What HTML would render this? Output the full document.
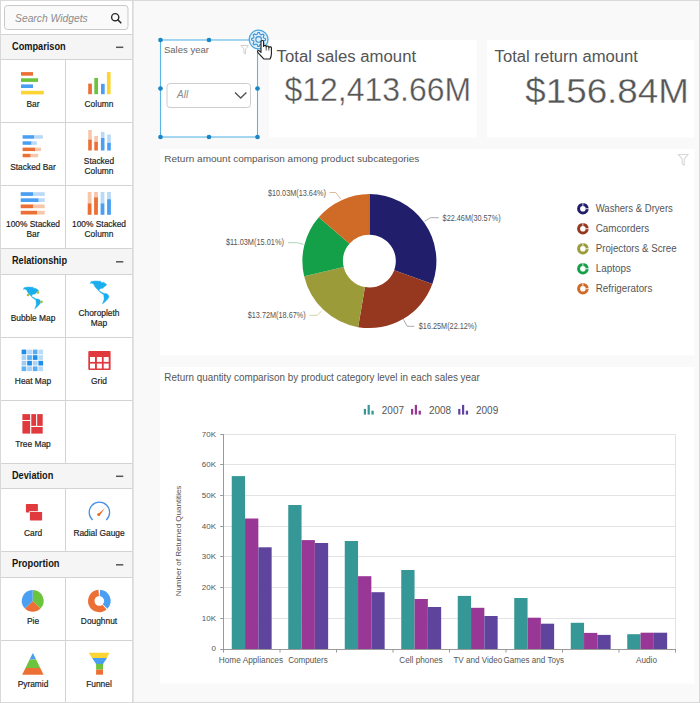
<!DOCTYPE html>
<html><head><meta charset="utf-8"><title>Dashboard Designer</title>
<style>html,body{margin:0;padding:0;background:#f7f7f7;width:700px;height:703px;overflow:hidden;font-family:"Liberation Sans",sans-serif}</style>
</head><body>
<svg width="700" height="703" viewBox="0 0 700 703" style="display:block;font-family:'Liberation Sans',sans-serif"><rect x="0.00" y="0.00" width="700.00" height="703.00" fill="#f9f9f9"/>
<rect x="0.00" y="0.00" width="132.50" height="703.00" fill="#ffffff"/>
<rect x="4.50" y="5.50" width="123.50" height="24.00" fill="#fafafa" rx="3" stroke="#c9c9c9" stroke-width="1"/>
<text x="15.00" y="22.20" fill="#8c8c8c" text-anchor="start" style="font-size:10.7px;font-weight:400;font-style:italic" textLength="72.8" lengthAdjust="spacingAndGlyphs">Search Widgets</text>
<circle cx="115.20" cy="17.20" r="3.60" fill="none" stroke="#2a2a2a" stroke-width="1.4"/>
<line x1="117.80" y1="19.80" x2="120.80" y2="22.80" stroke="#2a2a2a" stroke-width="1.6" stroke-linecap="round"/>
<rect x="0.00" y="34.50" width="132.50" height="25.00" fill="#f5f5f5"/>
<text x="12.00" y="49.60" fill="#151515" text-anchor="start" style="font-size:10.4px;font-weight:700" textLength="53.7" lengthAdjust="spacingAndGlyphs">Comparison</text>
<line x1="116.00" y1="47.30" x2="123.30" y2="47.30" stroke="#555" stroke-width="1.5"/>
<rect x="0.00" y="248.50" width="132.50" height="26.00" fill="#f5f5f5"/>
<text x="12.00" y="264.10" fill="#151515" text-anchor="start" style="font-size:10.4px;font-weight:700" textLength="55" lengthAdjust="spacingAndGlyphs">Relationship</text>
<line x1="116.00" y1="261.80" x2="123.30" y2="261.80" stroke="#555" stroke-width="1.5"/>
<rect x="0.00" y="463.50" width="132.50" height="25.00" fill="#f5f5f5"/>
<text x="12.00" y="478.60" fill="#151515" text-anchor="start" style="font-size:10.4px;font-weight:700" textLength="41.3" lengthAdjust="spacingAndGlyphs">Deviation</text>
<line x1="116.00" y1="476.30" x2="123.30" y2="476.30" stroke="#555" stroke-width="1.5"/>
<rect x="0.00" y="551.50" width="132.50" height="26.00" fill="#f5f5f5"/>
<text x="12.00" y="567.10" fill="#151515" text-anchor="start" style="font-size:10.4px;font-weight:700" textLength="47.5" lengthAdjust="spacingAndGlyphs">Proportion</text>
<line x1="116.00" y1="564.80" x2="123.30" y2="564.80" stroke="#555" stroke-width="1.5"/>
<line x1="0.00" y1="34.50" x2="132.50" y2="34.50" stroke="#d3d3d3" stroke-width="1"/>
<line x1="0.00" y1="59.50" x2="132.50" y2="59.50" stroke="#d3d3d3" stroke-width="1"/>
<line x1="0.00" y1="122.50" x2="132.50" y2="122.50" stroke="#d3d3d3" stroke-width="1"/>
<line x1="0.00" y1="185.50" x2="132.50" y2="185.50" stroke="#d3d3d3" stroke-width="1"/>
<line x1="0.00" y1="248.50" x2="132.50" y2="248.50" stroke="#d3d3d3" stroke-width="1"/>
<line x1="0.00" y1="274.50" x2="132.50" y2="274.50" stroke="#d3d3d3" stroke-width="1"/>
<line x1="0.00" y1="337.50" x2="132.50" y2="337.50" stroke="#d3d3d3" stroke-width="1"/>
<line x1="0.00" y1="400.50" x2="132.50" y2="400.50" stroke="#d3d3d3" stroke-width="1"/>
<line x1="0.00" y1="463.50" x2="132.50" y2="463.50" stroke="#d3d3d3" stroke-width="1"/>
<line x1="0.00" y1="488.50" x2="132.50" y2="488.50" stroke="#d3d3d3" stroke-width="1"/>
<line x1="0.00" y1="551.50" x2="132.50" y2="551.50" stroke="#d3d3d3" stroke-width="1"/>
<line x1="0.00" y1="577.50" x2="132.50" y2="577.50" stroke="#d3d3d3" stroke-width="1"/>
<line x1="0.00" y1="640.50" x2="132.50" y2="640.50" stroke="#d3d3d3" stroke-width="1"/>
<line x1="65.50" y1="59.50" x2="65.50" y2="248.50" stroke="#d3d3d3" stroke-width="1"/>
<line x1="65.50" y1="274.50" x2="65.50" y2="463.50" stroke="#d3d3d3" stroke-width="1"/>
<line x1="65.50" y1="488.50" x2="65.50" y2="551.50" stroke="#d3d3d3" stroke-width="1"/>
<line x1="65.50" y1="577.50" x2="65.50" y2="703.00" stroke="#d3d3d3" stroke-width="1"/>
<line x1="132.50" y1="0.00" x2="132.50" y2="703.00" stroke="#dadada" stroke-width="1"/>
<line x1="133.50" y1="0.00" x2="133.50" y2="703.00" stroke="#e4e4e4" stroke-width="1"/>
<text x="33.00" y="107.10" fill="#1c1c1c" text-anchor="middle" style="font-size:8.4px;font-weight:400" stroke="#1c1c1c" stroke-width="0.18">Bar</text>
<text x="99.00" y="107.10" fill="#1c1c1c" text-anchor="middle" style="font-size:8.4px;font-weight:400" stroke="#1c1c1c" stroke-width="0.18">Column</text>
<text x="33.00" y="170.00" fill="#1c1c1c" text-anchor="middle" style="font-size:8.4px;font-weight:400" stroke="#1c1c1c" stroke-width="0.18">Stacked Bar</text>
<text x="99.00" y="163.70" fill="#1c1c1c" text-anchor="middle" style="font-size:8.4px;font-weight:400" stroke="#1c1c1c" stroke-width="0.18">Stacked</text>
<text x="99.00" y="173.50" fill="#1c1c1c" text-anchor="middle" style="font-size:8.4px;font-weight:400" stroke="#1c1c1c" stroke-width="0.18">Column</text>
<text x="33.00" y="226.70" fill="#1c1c1c" text-anchor="middle" style="font-size:8.4px;font-weight:400" stroke="#1c1c1c" stroke-width="0.18">100% Stacked</text>
<text x="33.00" y="236.50" fill="#1c1c1c" text-anchor="middle" style="font-size:8.4px;font-weight:400" stroke="#1c1c1c" stroke-width="0.18">Bar</text>
<text x="99.00" y="226.70" fill="#1c1c1c" text-anchor="middle" style="font-size:8.4px;font-weight:400" stroke="#1c1c1c" stroke-width="0.18">100% Stacked</text>
<text x="99.00" y="236.50" fill="#1c1c1c" text-anchor="middle" style="font-size:8.4px;font-weight:400" stroke="#1c1c1c" stroke-width="0.18">Column</text>
<text x="33.00" y="321.00" fill="#1c1c1c" text-anchor="middle" style="font-size:8.4px;font-weight:400" stroke="#1c1c1c" stroke-width="0.18">Bubble Map</text>
<text x="99.00" y="315.70" fill="#1c1c1c" text-anchor="middle" style="font-size:8.4px;font-weight:400" stroke="#1c1c1c" stroke-width="0.18">Choropleth</text>
<text x="99.00" y="325.50" fill="#1c1c1c" text-anchor="middle" style="font-size:8.4px;font-weight:400" stroke="#1c1c1c" stroke-width="0.18">Map</text>
<text x="33.00" y="384.00" fill="#1c1c1c" text-anchor="middle" style="font-size:8.4px;font-weight:400" stroke="#1c1c1c" stroke-width="0.18">Heat Map</text>
<text x="99.00" y="384.00" fill="#1c1c1c" text-anchor="middle" style="font-size:8.4px;font-weight:400" stroke="#1c1c1c" stroke-width="0.18">Grid</text>
<text x="33.00" y="447.00" fill="#1c1c1c" text-anchor="middle" style="font-size:8.4px;font-weight:400" stroke="#1c1c1c" stroke-width="0.18">Tree Map</text>
<text x="33.00" y="536.00" fill="#1c1c1c" text-anchor="middle" style="font-size:8.4px;font-weight:400" stroke="#1c1c1c" stroke-width="0.18">Card</text>
<text x="99.00" y="536.00" fill="#1c1c1c" text-anchor="middle" style="font-size:8.4px;font-weight:400" stroke="#1c1c1c" stroke-width="0.18">Radial Gauge</text>
<text x="33.00" y="624.00" fill="#1c1c1c" text-anchor="middle" style="font-size:8.4px;font-weight:400" stroke="#1c1c1c" stroke-width="0.18">Pie</text>
<text x="99.00" y="624.00" fill="#1c1c1c" text-anchor="middle" style="font-size:8.4px;font-weight:400" stroke="#1c1c1c" stroke-width="0.18">Doughnut</text>
<text x="33.00" y="687.00" fill="#1c1c1c" text-anchor="middle" style="font-size:8.4px;font-weight:400" stroke="#1c1c1c" stroke-width="0.18">Pyramid</text>
<text x="99.00" y="687.00" fill="#1c1c1c" text-anchor="middle" style="font-size:8.4px;font-weight:400" stroke="#1c1c1c" stroke-width="0.18">Funnel</text>
<rect x="21.00" y="72.10" width="12.00" height="3.60" fill="#ec7036"/>
<rect x="21.00" y="78.30" width="17.10" height="3.60" fill="#6cc33c"/>
<rect x="21.00" y="84.40" width="12.00" height="3.60" fill="#4a9ff3"/>
<rect x="21.00" y="90.80" width="22.80" height="3.60" fill="#fcd434"/>
<rect x="88.20" y="83.60" width="3.70" height="10.60" fill="#ec7036"/>
<rect x="94.30" y="77.90" width="3.70" height="16.30" fill="#6cc33c"/>
<rect x="101.00" y="83.80" width="3.70" height="10.40" fill="#4a9ff3"/>
<rect x="106.90" y="72.10" width="3.70" height="22.10" fill="#fcd434"/>
<rect x="22.60" y="135.20" width="11.40" height="3.50" fill="#4a9ff3"/>
<rect x="34.00" y="135.20" width="8.90" height="3.50" fill="#b9d9f9"/>
<rect x="22.60" y="141.30" width="9.00" height="3.50" fill="#4a9ff3"/>
<rect x="31.60" y="141.30" width="5.20" height="3.50" fill="#b9d9f9"/>
<rect x="22.60" y="147.60" width="12.80" height="3.50" fill="#ec7036"/>
<rect x="35.40" y="147.60" width="5.60" height="3.50" fill="#f7c6ab"/>
<rect x="22.60" y="153.80" width="8.10" height="3.50" fill="#ec7036"/>
<rect x="30.70" y="153.80" width="7.50" height="3.50" fill="#f7c6ab"/>
<rect x="88.20" y="130.00" width="3.60" height="9.50" fill="#f7c6ab"/>
<rect x="88.20" y="139.50" width="3.60" height="11.00" fill="#ec7036"/>
<rect x="94.30" y="136.00" width="3.60" height="5.80" fill="#f7c6ab"/>
<rect x="94.30" y="141.80" width="3.60" height="8.70" fill="#ec7036"/>
<rect x="100.90" y="131.90" width="3.60" height="6.10" fill="#b9d9f9"/>
<rect x="100.90" y="138.00" width="3.60" height="12.50" fill="#4a9ff3"/>
<rect x="107.20" y="134.50" width="3.60" height="8.30" fill="#b9d9f9"/>
<rect x="107.20" y="142.80" width="3.60" height="7.70" fill="#4a9ff3"/>
<rect x="20.70" y="192.20" width="12.30" height="3.70" fill="#4a9ff3"/>
<rect x="33.00" y="192.20" width="11.70" height="3.70" fill="#b9d9f9"/>
<rect x="20.70" y="198.30" width="18.00" height="3.70" fill="#4a9ff3"/>
<rect x="38.70" y="198.30" width="6.00" height="3.70" fill="#b9d9f9"/>
<rect x="20.70" y="204.50" width="12.30" height="3.70" fill="#ec7036"/>
<rect x="33.00" y="204.50" width="11.70" height="3.70" fill="#f7c6ab"/>
<rect x="20.70" y="210.80" width="16.50" height="3.70" fill="#ec7036"/>
<rect x="37.20" y="210.80" width="7.50" height="3.70" fill="#f7c6ab"/>
<rect x="87.70" y="192.00" width="3.80" height="11.30" fill="#f7c6ab"/>
<rect x="87.70" y="203.30" width="3.80" height="11.50" fill="#ec7036"/>
<rect x="94.10" y="192.00" width="3.80" height="5.30" fill="#f7c6ab"/>
<rect x="94.10" y="197.30" width="3.80" height="17.50" fill="#ec7036"/>
<rect x="100.60" y="192.00" width="3.80" height="11.30" fill="#b9d9f9"/>
<rect x="100.60" y="203.30" width="3.80" height="11.50" fill="#4a9ff3"/>
<rect x="107.10" y="192.00" width="3.80" height="7.20" fill="#b9d9f9"/>
<rect x="107.10" y="199.20" width="3.80" height="15.60" fill="#4a9ff3"/>
<g transform="translate(23.2,287)"><path d="M0,2.4 L1.2,0.4 L4.8,0 L9.9,0.2 L10.7,1.6 L12.3,1.2 L14.3,2.4 L15.5,3.6 L14.3,4.8 L12.7,6 L11.9,7 L9.9,7.2 L8.8,8 L8.4,9.5 L9.5,10.1 L11.1,10.9 L13.1,11.9 L15.1,11.9 L16.7,13.1 L17.5,14.7 L17.1,16.3 L15.5,18.3 L13.5,20.3 L11.5,21.9 L12.3,19.9 L13.1,17.5 L12.9,15.1 L12.7,13.1 L10.3,11.5 L8.8,10.3 L7.6,8.7 L6,7.2 L4.4,5.2 L3.6,3.2 L1.6,2 Z" fill="#1aaeee" stroke="#1aaeee" stroke-width="0.4" stroke-linejoin="round"/></g>
<circle cx="28.00" cy="295.00" r="1.30" fill="#a9bf3a"/>
<circle cx="37.90" cy="292.40" r="1.30" fill="#a9bf3a"/>
<circle cx="41.50" cy="301.90" r="1.30" fill="#a9bf3a"/>
<g transform="translate(90,281) scale(1.08,1.045)"><path d="M0,2.4 L1.2,0.4 L4.8,0 L9.9,0.2 L10.7,1.6 L12.3,1.2 L14.3,2.4 L15.5,3.6 L14.3,4.8 L12.7,6 L11.9,7 L9.9,7.2 L8.8,8 L8.4,9.5 L9.5,10.1 L11.1,10.9 L13.1,11.9 L15.1,11.9 L16.7,13.1 L17.5,14.7 L17.1,16.3 L15.5,18.3 L13.5,20.3 L11.5,21.9 L12.3,19.9 L13.1,17.5 L12.9,15.1 L12.7,13.1 L10.3,11.5 L8.8,10.3 L7.6,8.7 L6,7.2 L4.4,5.2 L3.6,3.2 L1.6,2 Z" fill="#1aaeee" stroke="#1aaeee" stroke-width="0.4" stroke-linejoin="round"/></g>
<rect x="21.60" y="349.60" width="4.70" height="4.70" fill="#1e8ee8"/>
<rect x="27.20" y="349.60" width="4.70" height="4.70" fill="#b3d8f8"/>
<rect x="32.80" y="349.60" width="4.70" height="4.70" fill="#5aacef"/>
<rect x="38.40" y="349.60" width="4.70" height="4.70" fill="#b9dbf8"/>
<rect x="21.60" y="355.20" width="4.70" height="4.70" fill="#a9d2f6"/>
<rect x="27.20" y="355.20" width="4.70" height="4.70" fill="#62b1f0"/>
<rect x="32.80" y="355.20" width="4.70" height="4.70" fill="#1e8ee8"/>
<rect x="38.40" y="355.20" width="4.70" height="4.70" fill="#b9dbf8"/>
<rect x="21.60" y="360.80" width="4.70" height="4.70" fill="#9fcbf4"/>
<rect x="27.20" y="360.80" width="4.70" height="4.70" fill="#1e8ee8"/>
<rect x="32.80" y="360.80" width="4.70" height="4.70" fill="#acd4f7"/>
<rect x="38.40" y="360.80" width="4.70" height="4.70" fill="#1e8ee8"/>
<rect x="21.60" y="366.40" width="4.70" height="4.70" fill="#62b1f0"/>
<rect x="27.20" y="366.40" width="4.70" height="4.70" fill="#a6d0f6"/>
<rect x="32.80" y="366.40" width="4.70" height="4.70" fill="#5aacef"/>
<rect x="38.40" y="366.40" width="4.70" height="4.70" fill="#b3d8f8"/>
<rect x="88.30" y="351.00" width="22.30" height="19.10" fill="#e03a3e" rx="1"/>
<rect x="90.00" y="357.00" width="5.00" height="4.90" fill="#ffffff"/>
<rect x="90.00" y="363.60" width="5.00" height="4.90" fill="#ffffff"/>
<rect x="96.90" y="357.00" width="5.00" height="4.90" fill="#ffffff"/>
<rect x="96.90" y="363.60" width="5.00" height="4.90" fill="#ffffff"/>
<rect x="103.70" y="357.00" width="5.00" height="4.90" fill="#ffffff"/>
<rect x="103.70" y="363.60" width="5.00" height="4.90" fill="#ffffff"/>
<rect x="22.40" y="414.10" width="7.70" height="5.90" fill="#e03a3e"/>
<rect x="22.40" y="421.00" width="7.70" height="12.60" fill="#e03a3e"/>
<rect x="31.30" y="414.10" width="4.80" height="11.80" fill="#e03a3e"/>
<rect x="37.20" y="414.10" width="5.50" height="11.80" fill="#e03a3e"/>
<rect x="31.30" y="427.00" width="11.40" height="6.60" fill="#e03a3e"/>
<rect x="25.90" y="504.10" width="12.00" height="8.30" fill="#e03a3e" rx="0.6"/>
<rect x="29.20" y="511.20" width="13.60" height="9.90" fill="#ffffff"/>
<rect x="29.90" y="511.90" width="12.20" height="8.50" fill="#e03a3e" rx="0.6"/>
<path d="M92.57,519.98 A10.2,10.2 0 1 1 106.23,519.98" fill="none" stroke="#4a90e2" stroke-width="1.3"/>
<path d="M97.6,514.6 L104.9,508.0 L99.6,515.8 Z" fill="#e8732c"/>
<circle cx="98.60" cy="514.60" r="1.50" fill="#e8732c"/>
<path d="M32.70,600.90 L32.70,590.00 A10.9,10.9 0 0 1 40.41,608.61 Z" fill="#6cc33c"/>
<path d="M32.70,600.90 L40.41,608.61 A10.9,10.9 0 0 1 24.99,608.61 Z" fill="#ec7036"/>
<path d="M32.70,600.90 L24.99,608.61 A10.9,10.9 0 0 1 32.70,590.00 Z" fill="#4a9ff3"/>
<path d="M100.09,589.63 A11.3,11.3 0 0 1 107.43,608.75 L102.82,604.30 A4.9,4.9 0 0 0 99.64,596.01 Z" fill="#4a9ff3"/>
<path d="M106.56,609.56 A11.3,11.3 0 1 1 98.51,589.63 L98.96,596.01 A4.9,4.9 0 1 0 102.45,604.65 Z" fill="#ec7036"/>
<path d="M32.85,653.00 L32.85,653.00 L36.12,659.60 L29.58,659.60 Z" fill="#4a9ff3"/>
<path d="M29.58,659.60 L36.12,659.60 L40.23,667.90 L25.47,667.90 Z" fill="#6cc33c"/>
<path d="M25.47,667.90 L40.23,667.90 L43.60,674.70 L22.10,674.70 Z" fill="#ec7036"/>
<path d="M88.7,652.7 L109.3,652.7 L107,658.1 L92.1,658.1 Z" fill="#fcd434"/>
<path d="M92.1,658.1 L107,658.1 L103,663.9 L96.1,663.9 Z" fill="#4a9ff3"/>
<rect x="96.10" y="663.90" width="6.90" height="5.70" fill="#6cc33c"/>
<rect x="96.10" y="669.60" width="6.90" height="5.10" fill="#ec7036"/>
<rect x="160.50" y="40.00" width="97.00" height="97.00" fill="#ffffff"/>
<text x="164.00" y="52.80" fill="#666" text-anchor="start" style="font-size:9.5px;font-weight:400">Sales year</text>
<path d="M0,0 L7.5,0 L4.6,3.6 L4.6,8.5 L2.9,7.4 L2.9,3.6 Z" transform="translate(241,45.5)" fill="none" stroke="#cfcfcf" stroke-width="1"/>
<rect x="167.00" y="83.50" width="83.50" height="24.00" fill="#ffffff" rx="3" stroke="#cdcdcd" stroke-width="1"/>
<text x="177.00" y="98.20" fill="#8a8a8a" text-anchor="start" style="font-size:10px;font-weight:400;font-style:italic">All</text>
<path d="M235,92.4 L240.7,98 L246.4,92.4" fill="none" stroke="#555" stroke-width="1.4"/>
<rect x="160.50" y="40.00" width="97.00" height="97.00" fill="none" stroke="#5ab6e4" stroke-width="1.1"/>
<circle cx="160.50" cy="40.00" r="2.35" fill="#1b86c6"/>
<circle cx="209.00" cy="40.00" r="2.35" fill="#1b86c6"/>
<circle cx="160.50" cy="88.50" r="2.35" fill="#1b86c6"/>
<circle cx="257.50" cy="88.50" r="2.35" fill="#1b86c6"/>
<circle cx="160.50" cy="137.00" r="2.35" fill="#1b86c6"/>
<circle cx="209.00" cy="137.00" r="2.35" fill="#1b86c6"/>
<circle cx="257.50" cy="137.00" r="2.35" fill="#1b86c6"/>
<rect x="269.00" y="40.00" width="207.70" height="97.50" fill="#ffffff"/>
<rect x="487.00" y="40.00" width="207.40" height="97.50" fill="#ffffff"/>
<text x="276.60" y="61.60" fill="#555" text-anchor="start" style="font-size:15.6px;font-weight:400" textLength="139.5" lengthAdjust="spacingAndGlyphs">Total sales amount</text>
<text x="284.60" y="101.00" fill="#555" text-anchor="start" style="font-size:32.3px;font-weight:400" stroke="#ffffff" stroke-width="0.35" textLength="186.4" lengthAdjust="spacingAndGlyphs">$12,413.66M</text>
<text x="494.60" y="61.60" fill="#555" text-anchor="start" style="font-size:15.6px;font-weight:400" textLength="143.4" lengthAdjust="spacingAndGlyphs">Total return amount</text>
<text x="525.20" y="102.70" fill="#555" text-anchor="start" style="font-size:35.8px;font-weight:400" stroke="#ffffff" stroke-width="0.35" textLength="163.8" lengthAdjust="spacingAndGlyphs">$156.84M</text>
<circle cx="258.60" cy="39.50" r="9.40" fill="#ddf0fb" stroke="#4aa6de" stroke-width="1.3"/>
<path d="M257.99,32.43 L259.36,32.44 L260.16,34.44 L261.10,34.84 L263.10,34.04 L264.06,35.02 L263.21,37.00 L263.59,37.94 L265.57,38.79 L265.56,40.16 L263.56,40.96 L263.16,41.90 L263.96,43.90 L262.98,44.86 L261.00,44.01 L260.06,44.39 L259.21,46.37 L257.84,46.36 L257.04,44.36 L256.10,43.96 L254.10,44.76 L253.14,43.78 L253.99,41.80 L253.61,40.86 L251.63,40.01 L251.64,38.64 L253.64,37.84 L254.04,36.90 L253.24,34.90 L254.22,33.94 L256.20,34.79 L257.14,34.41 Z" fill="none" stroke="#3a8fd0" stroke-width="1.05"/>
<circle cx="258.60" cy="39.40" r="2.80" fill="none" stroke="#3a8fd0" stroke-width="1.05"/>
<path d="M261,41.6 C261,40.1 263.6,40.1 263.6,41.6 L263.6,46.4 C263.6,45.0 266.2,45.0 266.2,46.4 L266.2,47.0 C266.2,45.7 268.8,45.7 268.8,47.0 L268.8,47.8 C268.8,46.6 271.4,46.6 271.4,47.8 L271.4,53.8 C271.4,56.2 270.8,57.6 270.0,59.0 L263.8,59.0 C262.6,57.6 259.6,54.6 257.8,52.4 C256.9,51.2 258.3,49.9 259.4,50.8 L261,52.4 Z" fill="#ffffff" stroke="#1a1a1a" stroke-width="1.1" stroke-linejoin="round"/>
<path d="M266.2,47.2 L266.2,50.6 M268.8,48 L268.8,50.6" stroke="#1a1a1a" stroke-width="0.7"/>
<rect x="160.00" y="149.00" width="534.50" height="206.50" fill="#ffffff"/>
<text x="164.30" y="162.00" fill="#555" text-anchor="start" style="font-size:9.5px;font-weight:400" textLength="255" lengthAdjust="spacingAndGlyphs">Return amount comparison among product subcategories</text>
<path d="M0,0 L7.5,0 L4.6,3.6 L4.6,8.5 L2.9,7.4 L2.9,3.6 Z" transform="translate(678.5,154.5) scale(1.25)" fill="none" stroke="#d8d8d8" stroke-width="0.9"/>
<path d="M369.40,194.10 A67,67 0 0 1 432.34,284.07 L394.20,270.15 A26.4,26.4 0 0 0 369.40,234.70 Z" fill="#211f6b"/>
<path d="M432.34,284.07 A67,67 0 0 1 358.13,327.15 L364.96,287.12 A26.4,26.4 0 0 0 394.20,270.15 Z" fill="#96381f"/>
<path d="M358.13,327.15 A67,67 0 0 1 304.14,276.29 L343.69,267.09 A26.4,26.4 0 0 0 364.96,287.12 Z" fill="#9c9b39"/>
<path d="M304.14,276.29 A67,67 0 0 1 318.78,217.20 L349.46,243.80 A26.4,26.4 0 0 0 343.69,267.09 Z" fill="#14a048"/>
<path d="M318.78,217.20 A67,67 0 0 1 369.40,194.10 L369.40,234.70 A26.4,26.4 0 0 0 349.46,243.80 Z" fill="#d06b27"/>
<text x="267.90" y="195.70" fill="#555" text-anchor="start" style="font-size:8.8px;font-weight:400" textLength="58" lengthAdjust="spacingAndGlyphs">$10.03M(13.64%)</text>
<path d="M329.5,192.5 L335.7,192.5 L340.9,199.3" fill="none" stroke="#e0b090" stroke-width="0.9"/>
<text x="225.90" y="244.90" fill="#555" text-anchor="start" style="font-size:8.8px;font-weight:400" textLength="58" lengthAdjust="spacingAndGlyphs">$11.03M(15.01%)</text>
<path d="M288,242.7 L297.7,242.7 L303.4,244.4" fill="none" stroke="#9fd3b0" stroke-width="0.9"/>
<text x="247.70" y="318.10" fill="#555" text-anchor="start" style="font-size:8.8px;font-weight:400" textLength="58" lengthAdjust="spacingAndGlyphs">$13.72M(18.67%)</text>
<path d="M309.4,315.3 L317.1,315.3 L321.6,311.1" fill="none" stroke="#cfcf9f" stroke-width="0.9"/>
<text x="418.80" y="328.90" fill="#555" text-anchor="start" style="font-size:8.8px;font-weight:400" textLength="58" lengthAdjust="spacingAndGlyphs">$16.25M(22.12%)</text>
<path d="M403.4,319.3 L407.2,326.3 L414.3,326.3" fill="none" stroke="#a0a0a0" stroke-width="0.9"/>
<text x="442.60" y="220.60" fill="#555" text-anchor="start" style="font-size:8.8px;font-weight:400" textLength="58" lengthAdjust="spacingAndGlyphs">$22.46M(30.57%)</text>
<path d="M424.6,221.2 L430.4,217.7 L438.8,217.7" fill="none" stroke="#a0a0a0" stroke-width="0.9"/>
<circle cx="582.90" cy="208.70" r="4.30" fill="none" stroke="#211f6b" stroke-width="3.0"/>
<line x1="582.90" y1="202.70" x2="582.90" y2="206.10" stroke="#ffffff" stroke-width="0.8"/>
<line x1="585.60" y1="208.70" x2="589.00" y2="208.70" stroke="#ffffff" stroke-width="0.8"/>
<text x="595.70" y="211.60" fill="#555" text-anchor="start" style="font-size:10px;font-weight:400" textLength="77.2" lengthAdjust="spacingAndGlyphs">Washers &amp; Dryers</text>
<circle cx="582.90" cy="228.70" r="4.30" fill="none" stroke="#96381f" stroke-width="3.0"/>
<line x1="582.90" y1="222.70" x2="582.90" y2="226.10" stroke="#ffffff" stroke-width="0.8"/>
<line x1="585.60" y1="228.70" x2="589.00" y2="228.70" stroke="#ffffff" stroke-width="0.8"/>
<text x="595.70" y="231.60" fill="#555" text-anchor="start" style="font-size:10px;font-weight:400" textLength="53.5" lengthAdjust="spacingAndGlyphs">Camcorders</text>
<circle cx="582.90" cy="248.70" r="4.30" fill="none" stroke="#9c9b39" stroke-width="3.0"/>
<line x1="582.90" y1="242.70" x2="582.90" y2="246.10" stroke="#ffffff" stroke-width="0.8"/>
<line x1="585.60" y1="248.70" x2="589.00" y2="248.70" stroke="#ffffff" stroke-width="0.8"/>
<text x="595.70" y="251.60" fill="#555" text-anchor="start" style="font-size:10px;font-weight:400" textLength="80.9" lengthAdjust="spacingAndGlyphs">Projectors &amp; Scree</text>
<circle cx="582.90" cy="268.70" r="4.30" fill="none" stroke="#14a048" stroke-width="3.0"/>
<line x1="582.90" y1="262.70" x2="582.90" y2="266.10" stroke="#ffffff" stroke-width="0.8"/>
<line x1="585.60" y1="268.70" x2="589.00" y2="268.70" stroke="#ffffff" stroke-width="0.8"/>
<text x="595.70" y="271.60" fill="#555" text-anchor="start" style="font-size:10px;font-weight:400" textLength="35.2" lengthAdjust="spacingAndGlyphs">Laptops</text>
<circle cx="582.90" cy="288.70" r="4.30" fill="none" stroke="#d06b27" stroke-width="3.0"/>
<line x1="582.90" y1="282.70" x2="582.90" y2="286.10" stroke="#ffffff" stroke-width="0.8"/>
<line x1="585.60" y1="288.70" x2="589.00" y2="288.70" stroke="#ffffff" stroke-width="0.8"/>
<text x="595.70" y="291.60" fill="#555" text-anchor="start" style="font-size:10px;font-weight:400" textLength="56.6" lengthAdjust="spacingAndGlyphs">Refrigerators</text>
<rect x="160.00" y="367.00" width="534.50" height="316.60" fill="#ffffff"/>
<text x="164.30" y="380.60" fill="#555" text-anchor="start" style="font-size:10.1px;font-weight:400" textLength="315.5" lengthAdjust="spacingAndGlyphs">Return quantity comparison by product category level in each sales year</text>
<rect x="363.80" y="408.90" width="2.20" height="5.70" fill="#359896"/>
<rect x="367.60" y="404.90" width="2.20" height="9.70" fill="#359896"/>
<rect x="371.40" y="410.70" width="2.30" height="3.90" fill="#359896"/>
<text x="381.80" y="414.00" fill="#555" text-anchor="start" style="font-size:10.3px;font-weight:400" textLength="22.2" lengthAdjust="spacingAndGlyphs">2007</text>
<rect x="411.00" y="408.90" width="2.20" height="5.70" fill="#983795"/>
<rect x="414.80" y="404.90" width="2.20" height="9.70" fill="#983795"/>
<rect x="418.60" y="410.70" width="2.30" height="3.90" fill="#983795"/>
<text x="428.90" y="414.00" fill="#555" text-anchor="start" style="font-size:10.3px;font-weight:400" textLength="22.2" lengthAdjust="spacingAndGlyphs">2008</text>
<rect x="458.20" y="408.90" width="2.20" height="5.70" fill="#5f449d"/>
<rect x="462.00" y="404.90" width="2.20" height="9.70" fill="#5f449d"/>
<rect x="465.80" y="410.70" width="2.30" height="3.90" fill="#5f449d"/>
<text x="476.00" y="414.00" fill="#555" text-anchor="start" style="font-size:10.3px;font-weight:400" textLength="22.2" lengthAdjust="spacingAndGlyphs">2009</text>
<line x1="223.50" y1="618.50" x2="675.50" y2="618.50" stroke="#e3e3e3" stroke-width="1"/>
<line x1="220.20" y1="618.50" x2="223.50" y2="618.50" stroke="#9a9a9a" stroke-width="1"/>
<text x="216.00" y="620.90" fill="#555" text-anchor="end" style="font-size:8px;font-weight:400">10K</text>
<line x1="223.50" y1="587.50" x2="675.50" y2="587.50" stroke="#e3e3e3" stroke-width="1"/>
<line x1="220.20" y1="587.50" x2="223.50" y2="587.50" stroke="#9a9a9a" stroke-width="1"/>
<text x="216.00" y="589.90" fill="#555" text-anchor="end" style="font-size:8px;font-weight:400">20K</text>
<line x1="223.50" y1="556.50" x2="675.50" y2="556.50" stroke="#e3e3e3" stroke-width="1"/>
<line x1="220.20" y1="556.50" x2="223.50" y2="556.50" stroke="#9a9a9a" stroke-width="1"/>
<text x="216.00" y="558.90" fill="#555" text-anchor="end" style="font-size:8px;font-weight:400">30K</text>
<line x1="223.50" y1="526.50" x2="675.50" y2="526.50" stroke="#e3e3e3" stroke-width="1"/>
<line x1="220.20" y1="526.50" x2="223.50" y2="526.50" stroke="#9a9a9a" stroke-width="1"/>
<text x="216.00" y="528.90" fill="#555" text-anchor="end" style="font-size:8px;font-weight:400">40K</text>
<line x1="223.50" y1="495.50" x2="675.50" y2="495.50" stroke="#e3e3e3" stroke-width="1"/>
<line x1="220.20" y1="495.50" x2="223.50" y2="495.50" stroke="#9a9a9a" stroke-width="1"/>
<text x="216.00" y="497.90" fill="#555" text-anchor="end" style="font-size:8px;font-weight:400">50K</text>
<line x1="223.50" y1="464.50" x2="675.50" y2="464.50" stroke="#e3e3e3" stroke-width="1"/>
<line x1="220.20" y1="464.50" x2="223.50" y2="464.50" stroke="#9a9a9a" stroke-width="1"/>
<text x="216.00" y="466.90" fill="#555" text-anchor="end" style="font-size:8px;font-weight:400">60K</text>
<line x1="223.50" y1="434.50" x2="675.50" y2="434.50" stroke="#e3e3e3" stroke-width="1"/>
<line x1="220.20" y1="434.50" x2="223.50" y2="434.50" stroke="#9a9a9a" stroke-width="1"/>
<text x="216.00" y="436.90" fill="#555" text-anchor="end" style="font-size:8px;font-weight:400">70K</text>
<text x="216.00" y="651.40" fill="#555" text-anchor="end" style="font-size:8px;font-weight:400">0</text>
<line x1="675.50" y1="434.50" x2="675.50" y2="649.00" stroke="#e3e3e3" stroke-width="1"/>
<rect x="231.75" y="476.10" width="13.30" height="172.90" fill="#359896"/>
<rect x="245.05" y="518.50" width="13.30" height="130.50" fill="#983795"/>
<rect x="258.35" y="547.30" width="13.30" height="101.70" fill="#5f449d"/>
<rect x="288.25" y="505.00" width="13.30" height="144.00" fill="#359896"/>
<rect x="301.55" y="540.10" width="13.30" height="108.90" fill="#983795"/>
<rect x="314.85" y="543.00" width="13.30" height="106.00" fill="#5f449d"/>
<rect x="344.75" y="541.00" width="13.30" height="108.00" fill="#359896"/>
<rect x="358.05" y="576.20" width="13.30" height="72.80" fill="#983795"/>
<rect x="371.35" y="592.20" width="13.30" height="56.80" fill="#5f449d"/>
<rect x="401.25" y="570.00" width="13.30" height="79.00" fill="#359896"/>
<rect x="414.55" y="599.00" width="13.30" height="50.00" fill="#983795"/>
<rect x="427.85" y="607.00" width="13.30" height="42.00" fill="#5f449d"/>
<rect x="457.75" y="595.90" width="13.30" height="53.10" fill="#359896"/>
<rect x="471.05" y="607.80" width="13.30" height="41.20" fill="#983795"/>
<rect x="484.35" y="616.00" width="13.30" height="33.00" fill="#5f449d"/>
<rect x="514.25" y="598.00" width="13.30" height="51.00" fill="#359896"/>
<rect x="527.55" y="617.70" width="13.30" height="31.30" fill="#983795"/>
<rect x="540.85" y="623.70" width="13.30" height="25.30" fill="#5f449d"/>
<rect x="570.75" y="622.80" width="13.30" height="26.20" fill="#359896"/>
<rect x="584.05" y="632.90" width="13.30" height="16.10" fill="#983795"/>
<rect x="597.35" y="634.90" width="13.30" height="14.10" fill="#5f449d"/>
<rect x="627.25" y="634.20" width="13.30" height="14.80" fill="#359896"/>
<rect x="640.55" y="632.70" width="13.30" height="16.30" fill="#983795"/>
<rect x="653.85" y="632.70" width="13.30" height="16.30" fill="#5f449d"/>
<line x1="223.50" y1="434.00" x2="223.50" y2="650.00" stroke="#9a9a9a" stroke-width="1"/>
<line x1="220.20" y1="649.50" x2="675.50" y2="649.50" stroke="#9a9a9a" stroke-width="1"/>
<line x1="223.50" y1="649.00" x2="223.50" y2="652.60" stroke="#9a9a9a" stroke-width="1"/>
<line x1="280.00" y1="649.00" x2="280.00" y2="652.60" stroke="#9a9a9a" stroke-width="1"/>
<line x1="336.50" y1="649.00" x2="336.50" y2="652.60" stroke="#9a9a9a" stroke-width="1"/>
<line x1="393.00" y1="649.00" x2="393.00" y2="652.60" stroke="#9a9a9a" stroke-width="1"/>
<line x1="449.50" y1="649.00" x2="449.50" y2="652.60" stroke="#9a9a9a" stroke-width="1"/>
<line x1="506.00" y1="649.00" x2="506.00" y2="652.60" stroke="#9a9a9a" stroke-width="1"/>
<line x1="562.50" y1="649.00" x2="562.50" y2="652.60" stroke="#9a9a9a" stroke-width="1"/>
<line x1="619.00" y1="649.00" x2="619.00" y2="652.60" stroke="#9a9a9a" stroke-width="1"/>
<line x1="675.50" y1="649.00" x2="675.50" y2="652.60" stroke="#9a9a9a" stroke-width="1"/>
<text x="218.80" y="663.00" fill="#555" text-anchor="start" style="font-size:8.3px;font-weight:400" textLength="64.3" lengthAdjust="spacingAndGlyphs">Home Appliances</text>
<text x="288.20" y="663.00" fill="#555" text-anchor="start" style="font-size:8.3px;font-weight:400" textLength="39.6" lengthAdjust="spacingAndGlyphs">Computers</text>
<text x="399.30" y="663.00" fill="#555" text-anchor="start" style="font-size:8.3px;font-weight:400" textLength="43.4" lengthAdjust="spacingAndGlyphs">Cell phones</text>
<text x="453.40" y="663.00" fill="#555" text-anchor="start" style="font-size:8.3px;font-weight:400" textLength="48.9" lengthAdjust="spacingAndGlyphs">TV and Video</text>
<text x="503.50" y="663.00" fill="#555" text-anchor="start" style="font-size:8.3px;font-weight:400" textLength="60.5" lengthAdjust="spacingAndGlyphs">Games and Toys</text>
<text x="636.10" y="663.00" fill="#555" text-anchor="start" style="font-size:8.3px;font-weight:400" textLength="20.9" lengthAdjust="spacingAndGlyphs">Audio</text>
<text x="0" y="0" fill="#555" text-anchor="middle" style="font-size:8px" transform="translate(180.6,541) rotate(-90)">Number of Returned Quantities</text>
<rect x="0.50" y="0.50" width="699.00" height="702.00" fill="none" stroke="#d9d9d9" stroke-width="1"/></svg>
</body></html>
